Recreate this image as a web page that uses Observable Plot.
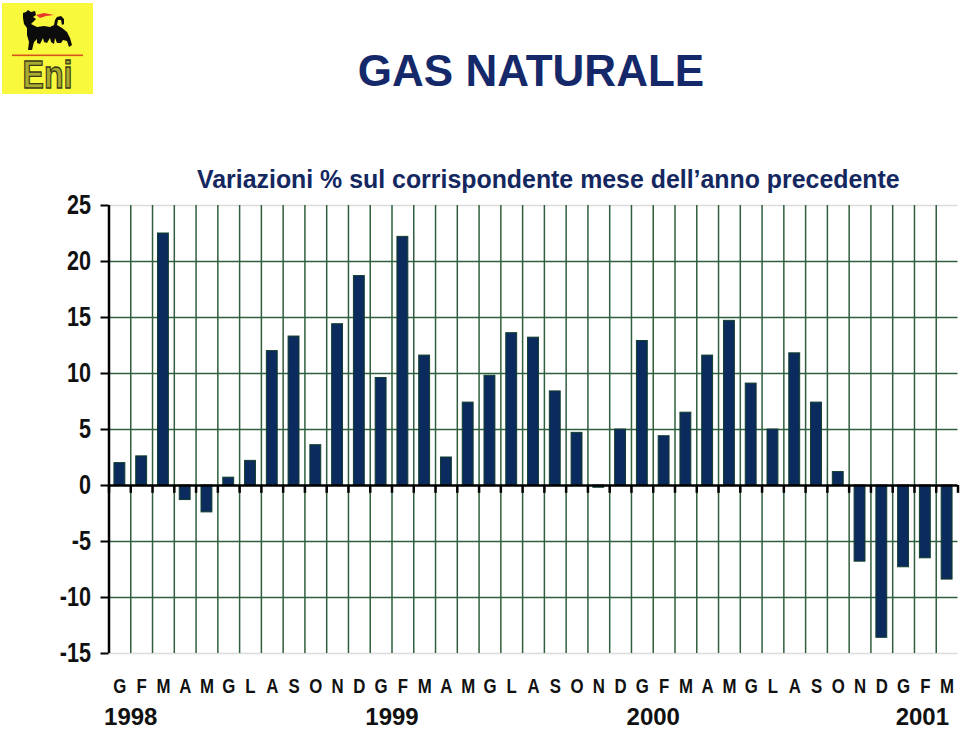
<!DOCTYPE html>
<html><head><meta charset="utf-8">
<script src="https://cdn.jsdelivr.net/npm/d3@7"></script>
<script src="https://cdn.jsdelivr.net/npm/@observablehq/plot@0.6"></script>
<style>
html,body{margin:0;padding:0;background:#fff;}
#page{position:relative;width:960px;height:730px;overflow:hidden;font-family:"Liberation Sans",Arial,sans-serif;}
#head{position:relative;height:190px;}
#logo{position:absolute;left:2px;top:3px;}
h1{position:absolute;left:102px;top:44px;width:858px;margin:0;text-align:center;font-size:44px;line-height:54px;font-weight:700;color:#14286a;}
h2{position:absolute;left:197px;top:164px;margin:0;font-size:24.9px;line-height:30px;font-weight:700;color:#14285f;white-space:nowrap;}
#chart{position:absolute;left:0;top:190px;}
svg{display:block;}
</style></head>
<body>
<div id="page">
<div id="head">
<svg id="logo" width="91" height="105" viewBox="2 3 91 105">
<rect x="2" y="3" width="91" height="91" fill="#f8f83c"/>
<path d="M36 15 L44 13 L54 15 L46 16 L40 18 Z" fill="#e8382c"/>
<path d="M23 13 L26 12 L28 10 L31 12 L35 11 L36 15 L33 17 L36 19 L33 22 L31 24 L37 27 L44 26 L50 27 L54 25 L55 20 L57 17 L61 16 L64 19 L64 24 L62 25 L61 20 L58 20 L57 25 L62 28 L67 32 L70 38 L72 45 L69 47 L67 41 L63 40 L61 43 L57 43 L55 38 L54 44 L51 42 L50 38 L47 43 L44 42 L43 38 L40 44 L37 43 L37 39 L34 42 L32 50 L28 50 L29 42 L27 35 L27 28 L24 24 L23 18 Z" fill="#0c0c0c"/>
<rect x="12" y="54.5" width="71" height="1.6" fill="#d8541c"/>
<text x="47.5" y="88" text-anchor="middle" font-family="Liberation Sans" font-weight="700" font-size="39" textLength="50" lengthAdjust="spacingAndGlyphs" fill="#a9aa30" stroke="#3a3a18" stroke-width="1.3">Eni</text>
</svg>
<h1>GAS NATURALE</h1>
<h2>Variazioni % sul corrispondente mese dell’anno precedente</h2>
</div>
<div id="chart"></div>
</div>
<script>
const months = ["G","F","M","A","M","G","L","A","S","O","N","D","G","F","M","A","M","G","L","A","S","O","N","D","G","F","M","A","M","G","L","A","S","O","N","D","G","F","M"];
const values = [2.0,2.6,22.5,-1.3,-2.4,0.7,2.2,12.0,13.3,3.6,14.4,18.7,
                9.6,22.2,11.6,2.5,7.4,9.8,13.6,13.2,8.4,4.7,-0.2,5.0,
                12.9,4.4,6.5,11.6,14.7,9.1,5.0,11.8,7.4,1.2,-6.8,-13.6,
                -7.3,-6.5,-8.4];
const yearsA = [{i:0,label:"1998"},{i:12,label:"1999"},{i:24,label:"2000"}];
const yearsB = [{i:37,label:"2001"}];
const yTicks = [-15,-10,-5,0,5,10,15,20,25];
const innerY = [-10,-5,5,10,15,20];
const edgeY = [-15,25];

const left = 108.5, right = 957.5;
const step = (right-left)/months.length;
const idx = months.map((_,i)=>i);
const rows = idx.map(i=>({i,v:values[i]}));
const green = "#2f5f3c";
const ticksInner = idx.slice(1);

const plot = Plot.plot({
  width:960,height:540,
  marginLeft:left,marginRight:960-right,marginTop:15,marginBottom:77,
  style:{background:"transparent",overflow:"visible"},
  x:{type:"band",domain:idx,paddingInner:0.5,paddingOuter:0.25,align:0.5,round:false,label:null},
  y:{domain:[-15,25],label:null},
  marks:[
    Plot.ruleY(edgeY,{stroke:"#dcdcdc",strokeWidth:1.5}),
    Plot.ruleY(innerY,{stroke:green,strokeWidth:1.4}),
    Plot.ruleX(ticksInner,{x:d=>d,dx:-step/2,y1:-15,y2:25,stroke:green,strokeWidth:1.5}),
    Plot.barY(rows,{x:"i",y:"v",fill:"#0b2a5e",stroke:"#123f2c",strokeWidth:1}),
    Plot.ruleX(idx,{x:d=>d,dx:-step/2,y1:0,y2:-0.7,stroke:"#000",strokeWidth:2.5}),
    Plot.ruleX([months.length-1],{x:d=>d,dx:step/2,y1:0,y2:-0.7,stroke:"#000",strokeWidth:2.5}),
    Plot.ruleY([0],{stroke:"#000",strokeWidth:2.5}),
    Plot.ruleX([0],{x:d=>d,dx:-step/2,y1:-15,y2:25,stroke:"#000",strokeWidth:2.5}),
    Plot.axisY({ticks:yTicks,tickSize:8,tickPadding:10,stroke:"#000",strokeWidth:2,
      fontFamily:"Liberation Sans",fontWeight:700,fontSize:27,fill:"#111",label:null,
      tickFormat:d=>String(d),marginLeft:left}),
    Plot.axisX({ticks:idx,tickSize:0,tickPadding:25,tickFormat:i=>months[i],
      fontFamily:"Liberation Sans",fontWeight:700,fontSize:21,fill:"#111",label:null}),
    Plot.text(yearsA,{x:"i",text:"label",frameAnchor:"bottom",dx:step/2,dy:71.5,
      fontFamily:"Liberation Sans",fontWeight:700,fontSize:24,fill:"#111"}),
    Plot.text(yearsB,{x:"i",text:"label",frameAnchor:"bottom",dx:-3,dy:71.5,
      fontFamily:"Liberation Sans",fontWeight:700,fontSize:24,fill:"#111"})
  ]
});
document.getElementById("chart").appendChild(plot);
// condense the axis labels, as in the reference's narrow bold face
d3.select(plot).selectAll('g[aria-label="y-axis tick label"] text, g[aria-label="x-axis tick label"] text').each(function(){
  this.setAttribute("textLength", this.getComputedTextLength()*0.8);
  this.setAttribute("lengthAdjust","spacingAndGlyphs");
});
</script>
</body></html>
